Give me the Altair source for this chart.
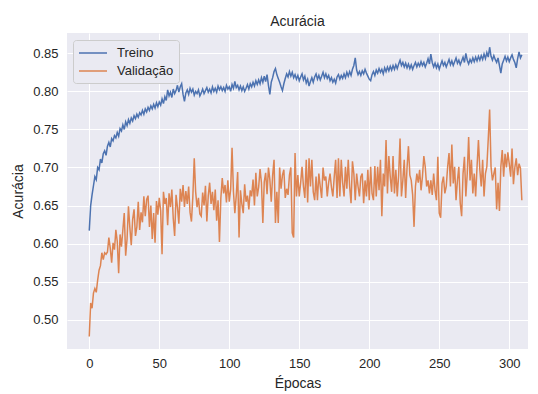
import altair as alt
import pandas as pd

treino = [
    0.617, 0.650, 0.664, 0.676, 0.688, 0.684, 0.700, 0.697, 0.711, 0.706,
    0.718, 0.722, 0.716, 0.728, 0.733, 0.727, 0.738, 0.735, 0.742, 0.739,
    0.746, 0.741, 0.751, 0.748, 0.756, 0.750, 0.760, 0.755, 0.763, 0.758,
    0.765, 0.761, 0.768, 0.764, 0.770, 0.766, 0.772, 0.769, 0.775, 0.770,
    0.777, 0.773, 0.779, 0.775, 0.781, 0.777, 0.783, 0.778, 0.785, 0.780,
    0.786, 0.782, 0.790, 0.784, 0.793, 0.788, 0.802, 0.794, 0.799, 0.792,
    0.803, 0.797, 0.801, 0.808, 0.799, 0.806, 0.810, 0.796, 0.787, 0.798,
    0.802, 0.796, 0.804, 0.799, 0.803, 0.795, 0.800, 0.797, 0.802, 0.794,
    0.798, 0.803, 0.797, 0.801, 0.805, 0.799, 0.803, 0.798, 0.806, 0.800,
    0.804, 0.799, 0.807, 0.802, 0.806, 0.801, 0.805, 0.800, 0.808, 0.803,
    0.806, 0.800, 0.809, 0.804, 0.813, 0.805, 0.808, 0.802, 0.807, 0.801,
    0.806, 0.800, 0.804, 0.809, 0.803, 0.810, 0.806, 0.812, 0.807, 0.814,
    0.809, 0.815, 0.810, 0.818, 0.812, 0.820, 0.813, 0.822, 0.808, 0.796,
    0.812, 0.818, 0.826, 0.830, 0.822, 0.817, 0.812, 0.806, 0.801, 0.810,
    0.817, 0.823, 0.819, 0.826, 0.820, 0.825, 0.818, 0.822, 0.816, 0.821,
    0.814, 0.819, 0.823, 0.815, 0.820, 0.811, 0.816, 0.807, 0.813, 0.818,
    0.812, 0.819, 0.823, 0.816, 0.821, 0.815, 0.820, 0.825, 0.818, 0.823,
    0.817, 0.821, 0.814, 0.818, 0.812, 0.816, 0.811, 0.819, 0.822, 0.816,
    0.821, 0.817, 0.823, 0.818, 0.825, 0.820, 0.826, 0.821, 0.829, 0.834,
    0.844, 0.828, 0.822, 0.826, 0.821, 0.827, 0.823, 0.829, 0.824, 0.820,
    0.816, 0.814, 0.822, 0.826, 0.821, 0.828, 0.824, 0.830, 0.825, 0.829,
    0.823, 0.831, 0.826, 0.832, 0.827, 0.833, 0.828, 0.834, 0.829, 0.835,
    0.830, 0.836, 0.841, 0.834, 0.838, 0.832, 0.837, 0.831, 0.836, 0.830,
    0.835, 0.829, 0.834, 0.838, 0.832, 0.837, 0.833, 0.839, 0.834, 0.838,
    0.832, 0.837, 0.843, 0.836, 0.849, 0.838, 0.832, 0.837, 0.831, 0.836,
    0.829, 0.835, 0.840, 0.834, 0.838, 0.832, 0.837, 0.842, 0.835, 0.840,
    0.834, 0.839, 0.844, 0.837, 0.841, 0.835, 0.840, 0.845, 0.838, 0.850,
    0.841, 0.836, 0.842, 0.838, 0.844, 0.839, 0.845, 0.840, 0.846, 0.841,
    0.847, 0.842, 0.849, 0.843, 0.851, 0.845, 0.858, 0.846, 0.841, 0.847,
    0.842, 0.838, 0.844, 0.834, 0.824, 0.836, 0.841, 0.846, 0.840, 0.845,
    0.839, 0.844, 0.848, 0.842, 0.838, 0.831, 0.843, 0.852, 0.844, 0.848,
]

validacao = [
    0.478, 0.522, 0.515, 0.535, 0.541, 0.536, 0.552, 0.565, 0.571, 0.588,
    0.579, 0.588, 0.586, 0.589, 0.608, 0.594, 0.575, 0.601, 0.592, 0.618,
    0.603, 0.561, 0.612, 0.596, 0.618, 0.640, 0.584, 0.606, 0.649, 0.621,
    0.598, 0.632, 0.645, 0.610, 0.622, 0.655, 0.618, 0.641, 0.628, 0.662,
    0.636, 0.658, 0.663, 0.622, 0.650, 0.606, 0.640, 0.601, 0.656, 0.638,
    0.660, 0.643, 0.586, 0.668, 0.652, 0.660, 0.624, 0.666, 0.648, 0.671,
    0.633, 0.610, 0.664, 0.648, 0.626, 0.672, 0.655, 0.677, 0.648, 0.669,
    0.652, 0.675, 0.641, 0.629, 0.662, 0.712, 0.668, 0.648, 0.660, 0.639,
    0.636, 0.667, 0.650, 0.676, 0.629, 0.663, 0.680, 0.652, 0.668, 0.644,
    0.671, 0.630, 0.657, 0.602, 0.660, 0.686, 0.666, 0.677, 0.654, 0.683,
    0.655, 0.671, 0.726, 0.668, 0.640, 0.663, 0.694, 0.608, 0.670, 0.652,
    0.640, 0.678, 0.655, 0.663, 0.645, 0.670, 0.662, 0.684, 0.650, 0.693,
    0.662, 0.674, 0.698, 0.680, 0.627, 0.681, 0.693, 0.665, 0.700, 0.684,
    0.655, 0.690, 0.710, 0.627, 0.668, 0.627, 0.700, 0.672, 0.690, 0.697,
    0.660, 0.672, 0.664, 0.690, 0.700, 0.614, 0.608, 0.719, 0.662, 0.690,
    0.662, 0.680, 0.701, 0.675, 0.660, 0.710, 0.654, 0.712, 0.675, 0.710,
    0.668, 0.657, 0.688, 0.657, 0.692, 0.675, 0.660, 0.700, 0.683, 0.688,
    0.662, 0.680, 0.692, 0.674, 0.662, 0.688, 0.710, 0.660, 0.712, 0.662,
    0.710, 0.680, 0.662, 0.701, 0.672, 0.710, 0.675, 0.653, 0.708, 0.692,
    0.657, 0.692, 0.675, 0.662, 0.688, 0.692, 0.653, 0.683, 0.662, 0.697,
    0.657, 0.701, 0.666, 0.657, 0.702, 0.662, 0.701, 0.670, 0.710, 0.636,
    0.692, 0.675, 0.736, 0.666, 0.715, 0.688, 0.668, 0.715, 0.666, 0.697,
    0.662, 0.690, 0.738, 0.662, 0.683, 0.710, 0.660, 0.700, 0.728, 0.690,
    0.683, 0.664, 0.622, 0.675, 0.692, 0.680, 0.697, 0.670, 0.688, 0.715,
    0.701, 0.675, 0.683, 0.666, 0.683, 0.664, 0.692, 0.670, 0.657, 0.714,
    0.640, 0.634, 0.679, 0.688, 0.666, 0.675, 0.701, 0.719, 0.675, 0.730,
    0.679, 0.701, 0.657, 0.683, 0.701, 0.653, 0.636, 0.692, 0.714, 0.662,
    0.692, 0.740, 0.683, 0.710, 0.666, 0.692, 0.662, 0.701, 0.736, 0.697,
    0.675, 0.710, 0.662, 0.692, 0.701, 0.737, 0.776, 0.701, 0.683, 0.692,
    0.700, 0.645, 0.680, 0.643, 0.701, 0.723, 0.688, 0.718, 0.700, 0.720,
    0.705, 0.688, 0.725, 0.678, 0.700, 0.712, 0.690, 0.705, 0.699, 0.657,
]

series_names = ["Treino", "Validação"]
series_colors = ["#4C72B0", "#DD8452"]
x_ticks = [0, 50, 100, 150, 200, 250, 300]
y_ticks = [0.50, 0.55, 0.60, 0.65, 0.70, 0.75, 0.80, 0.85]

rows = []
for i, v in enumerate(treino):
    rows.append({"epoca": i, "acc": v, "serie": series_names[0]})
for i, v in enumerate(validacao):
    rows.append({"epoca": i, "acc": v, "serie": series_names[1]})
df = pd.DataFrame(rows)

FONT = "Liberation Sans"
TXT = "#262626"

chart = alt.Chart(df).mark_line(strokeWidth=1.5).encode(
    x=alt.X("epoca:Q",
            scale=alt.Scale(domain=[-15.9, 313.4], nice=False, zero=False),
            axis=alt.Axis(values=x_ticks, title="Épocas", labelPadding=8,
                          titlePadding=6)),
    y=alt.Y("acc:Q",
            scale=alt.Scale(domain=[0.4615, 0.8767], nice=False, zero=False),
            axis=alt.Axis(values=y_ticks, format=".2f", title="Acurácia",
                          labelPadding=9, titlePadding=7)),
    color=alt.Color("serie:N",
                    scale=alt.Scale(domain=series_names, range=series_colors),
                    legend=alt.Legend(title=None, orient="none", legendX=6, legendY=7,
                                      symbolType="M-2,0L2,0", symbolSize=196,
                                      symbolOffset=7,
                                      symbolStrokeWidth=1.5, labelFontSize=13,
                                      labelFont=FONT, labelColor=TXT,
                                      fillColor="#EAEAF2", strokeColor="#CCCCCC",
                                      cornerRadius=3, padding=5, rowPadding=3,
                                      labelOffset=16)),
    order="epoca:Q",
).properties(
    width=461,
    height=316,
    title=alt.TitleParams("Acurácia", fontSize=14, fontWeight="normal", font=FONT,
                          color=TXT, offset=4),
    autosize="none",
    padding={"left": 59, "top": 25, "right": 2, "bottom": 44},
).configure_view(
    fill="#EAEAF2", strokeWidth=0
).configure_axis(
    domain=False, ticks=False, grid=True, gridColor="#FFFFFF", gridWidth=1,
    labelFont=FONT, labelFontSize=13, labelColor=TXT,
    titleFont=FONT, titleFontSize=14, titleFontWeight="normal", titleColor=TXT,
)

chart.save("out.html", embed_options={"renderer": "svg", "actions": False})
